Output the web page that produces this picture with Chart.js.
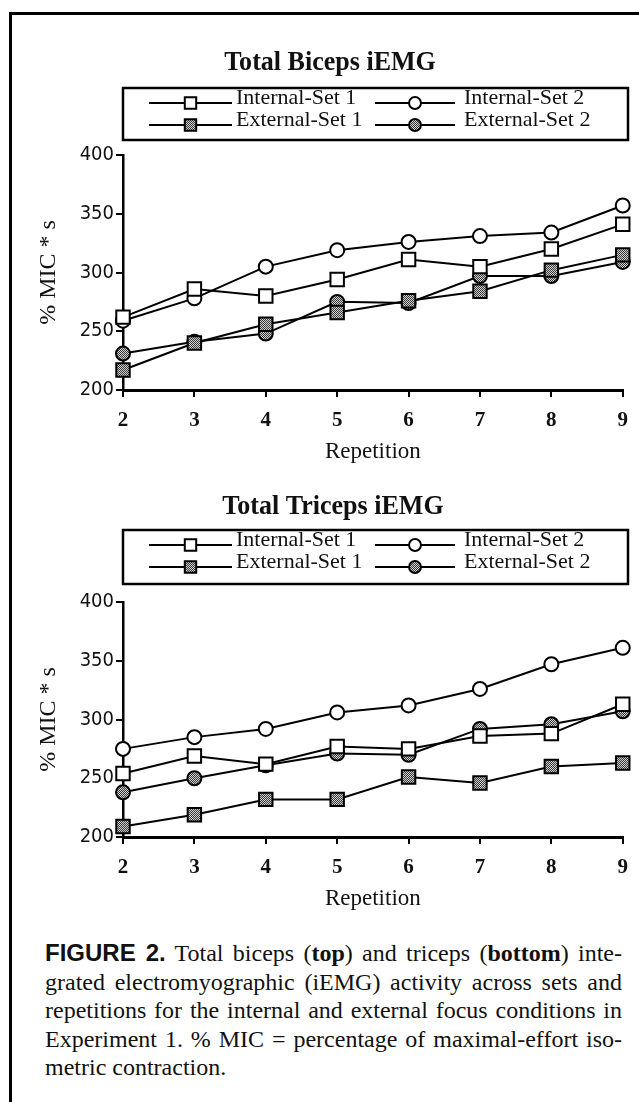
<!DOCTYPE html>
<html>
<head>
<meta charset="utf-8">
<script src="https://cdn.jsdelivr.net/npm/chart.js@4.4.1/dist/chart.umd.min.js"></script>
<style>
  html, body { margin: 0; padding: 0; background: #fff; }
  body { width: 639px; height: 1102px; position: relative; overflow: hidden; }
  #frame { position: absolute; left: 9px; top: 12px; width: 640px; height: 1100px;
           border-left: 3px solid #000; border-top: 3px solid #000; }
  canvas { position: absolute; left: 0; }
  #caption { position: absolute; left: 45px; width: 577px; top: 939px;
             font-family: "Liberation Serif", "Times New Roman", serif; font-size: 24px;
             line-height: 28.5px; color: #111; }
  #caption span { display: block; text-align: justify; text-align-last: justify; }
  #caption span.last { text-align-last: left; }
  .fig { font-family: "Liberation Sans", Arial, sans-serif; font-weight: bold; }
</style>
</head>
<body>
<div id="frame"></div>
<canvas id="biceps" width="639" height="470" style="top:0px"></canvas>
<canvas id="triceps" width="639" height="470" style="top:447px"></canvas>
<div id="caption">
  <span><b class="fig">FIGURE 2.</b> Total biceps (<b>top</b>) and triceps (<b>bottom</b>) inte-</span>
  <span>grated electromyographic (iEMG) activity across sets and</span>
  <span>repetitions for the internal and external focus conditions in</span>
  <span>Experiment 1. % MIC = percentage of maximal-effort iso-</span>
  <span class="last">metric contraction.</span>
</div>
<script>
// data
const repetitions = ['2', '3', '4', '5', '6', '7', '8', '9'];
const seriesNames = ['Internal-Set 1', 'Internal-Set 2', 'External-Set 1', 'External-Set 2'];

const bicepsInternal1 = [262, 286, 280, 294, 311, 305, 320, 341];
const bicepsInternal2 = [259, 278, 305, 319, 326, 331, 334, 357];
const bicepsExternal1 = [217, 240, 256, 266, 276, 284, 302, 315];
const bicepsExternal2 = [231, 241, 248, 275, 274, 297, 297, 309];

const tricepsInternal1 = [254, 269, 262, 277, 275, 286, 288, 313];
const tricepsInternal2 = [275, 285, 292, 306, 312, 326, 347, 361];
const tricepsExternal1 = [209, 219, 232, 232, 251, 246, 260, 263];
const tricepsExternal2 = [238, 250, 261, 271, 270, 292, 296, 307];

const yTicks = [200, 250, 300, 350, 400];

const SERIF = '"Liberation Serif", "Times New Roman", serif';
const SANS = '"Liberation Sans Narrow", "DejaVu Sans Condensed", "Liberation Sans", Arial, sans-serif';

// halftone-looking fill for the "External" markers
function makeShade() {
    const c = document.createElement('canvas');
    c.width = 2; c.height = 2;
    const g = c.getContext('2d');
    g.fillStyle = '#cfcfcf';
    g.fillRect(0, 0, 2, 2);
    g.fillStyle = '#3a3a3a';
    g.fillRect(0, 0, 1, 1);
    g.fillRect(1, 1, 1, 1);
    return g.createPattern(c, 'repeat');
}
const shade = makeShade();

const markerStyles = [
    { pointStyle: 'rect', pointRadius: 9.5, fill: '#fff' },
    { pointStyle: 'circle', pointRadius: 7, fill: '#fff' },
    { pointStyle: 'rect', pointRadius: 9.5, fill: shade },
    { pointStyle: 'circle', pointRadius: 7, fill: shade }
];

// title + boxed legend drawn above the plot
const boxLegend = {
    id: 'boxLegend',
    afterDraw(chart, args, opts) {
        const ctx = chart.ctx;
        ctx.save();
        // narrow, tall title like the scanned Times face
        ctx.save();
        ctx.translate(opts.titleX, opts.titleY);
        ctx.scale(0.93, 1);
        ctx.fillStyle = '#111';
        ctx.font = 'bold 28px ' + SERIF;
        ctx.textAlign = 'center';
        ctx.textBaseline = 'middle';
        ctx.fillText(opts.title, 0, 0);
        ctx.restore();

        const [bx1, by1, bx2, by2] = opts.box;
        ctx.strokeStyle = '#000';
        ctx.lineWidth = 2.5;
        ctx.strokeRect(bx1, by1, bx2 - bx1, by2 - by1);

        chart.data.datasets.forEach((ds, i) => {
            const col = opts.cols[i % 2];
            const y = opts.rows[Math.floor(i / 2)];
            ctx.beginPath();
            ctx.lineWidth = 2;
            ctx.strokeStyle = '#000';
            ctx.moveTo(col.x1, y);
            ctx.lineTo(col.x2, y);
            ctx.stroke();
            ctx.fillStyle = ds.pointBackgroundColor;
            Chart.helpers.drawPoint(ctx, {
                pointStyle: ds.pointStyle,
                radius: ds.pointRadius * 0.85,
                borderWidth: 2,
                rotation: 0
            }, (col.x1 + col.x2) / 2, y);
            ctx.fillStyle = '#111';
            ctx.font = '22px ' + SERIF;
            ctx.textAlign = 'left';
            ctx.fillText(ds.label, col.tx, y + 1);
        });
        ctx.restore();
    }
};

function makeChart(id, values, title, legendPos) {
    const datasets = values.map((v, i) => ({
        label: seriesNames[i],
        data: v,
        borderColor: '#000',
        borderWidth: 2,
        pointStyle: markerStyles[i].pointStyle,
        pointRadius: markerStyles[i].pointRadius,
        pointHoverRadius: markerStyles[i].pointRadius,
        pointBackgroundColor: markerStyles[i].fill,
        pointBorderColor: '#000',
        pointBorderWidth: 2,
        tension: 0,
        clip: false
    }));

    return new Chart(document.getElementById(id), {
        type: 'line',
        data: { labels: repetitions, datasets: datasets },
        options: {
            responsive: false,
            animation: false,
            layout: { padding: { left: 0, right: 16, top: 155, bottom: 0 } },
            plugins: {
                legend: { display: false },
                title: { display: false },
                tooltip: { enabled: false },
                boxLegend: Object.assign({ title: title }, legendPos)
            },
            scales: {
                x: {
                    offset: false,
                    afterFit: (s) => { s.height = 80; },
                    border: { color: '#000', width: 3 },
                    grid: { drawOnChartArea: false, drawTicks: true, tickLength: 7, color: '#000', lineWidth: 2 },
                    ticks: { color: '#111', padding: 11, font: { family: SERIF, size: 21, weight: 'bold' } },
                    title: {
                        display: true, text: 'Repetition', color: '#111',
                        font: { family: SERIF, size: 23 },
                        padding: { top: 0, bottom: 4 }
                    }
                },
                y: {
                    min: 200, max: 400,
                    afterFit: (s) => { s.width = 123; },
                    afterBuildTicks: (s) => { s.ticks = yTicks.map(v => ({ value: v })); },
                    border: { color: '#000', width: 2.5 },
                    grid: { drawOnChartArea: false, drawTicks: true, tickLength: 7, color: '#000', lineWidth: 2 },
                    ticks: { color: '#111', padding: 2, font: { family: SANS, size: 20 } },
                    title: {
                        display: true, text: '% MIC * s', color: '#111',
                        font: { family: SERIF, size: 24 },
                        padding: { top: 34, bottom: 0 }
                    }
                }
            }
        },
        plugins: [boxLegend]
    });
}

const legendCols = [
    { x1: 149, x2: 232, tx: 236 },
    { x1: 375, x2: 455, tx: 464 }
];

makeChart('biceps',
    [bicepsInternal1, bicepsInternal2, bicepsExternal1, bicepsExternal2],
    'Total Biceps iEMG',
    { titleX: 330, titleY: 63, box: [123, 88, 628, 140], rows: [103, 125], cols: legendCols });

makeChart('triceps',
    [tricepsInternal1, tricepsInternal2, tricepsExternal1, tricepsExternal2],
    'Total Triceps iEMG',
    { titleX: 333, titleY: 60, box: [123, 83, 628, 137], rows: [98, 120], cols: legendCols });
</script>
</body>
</html>
